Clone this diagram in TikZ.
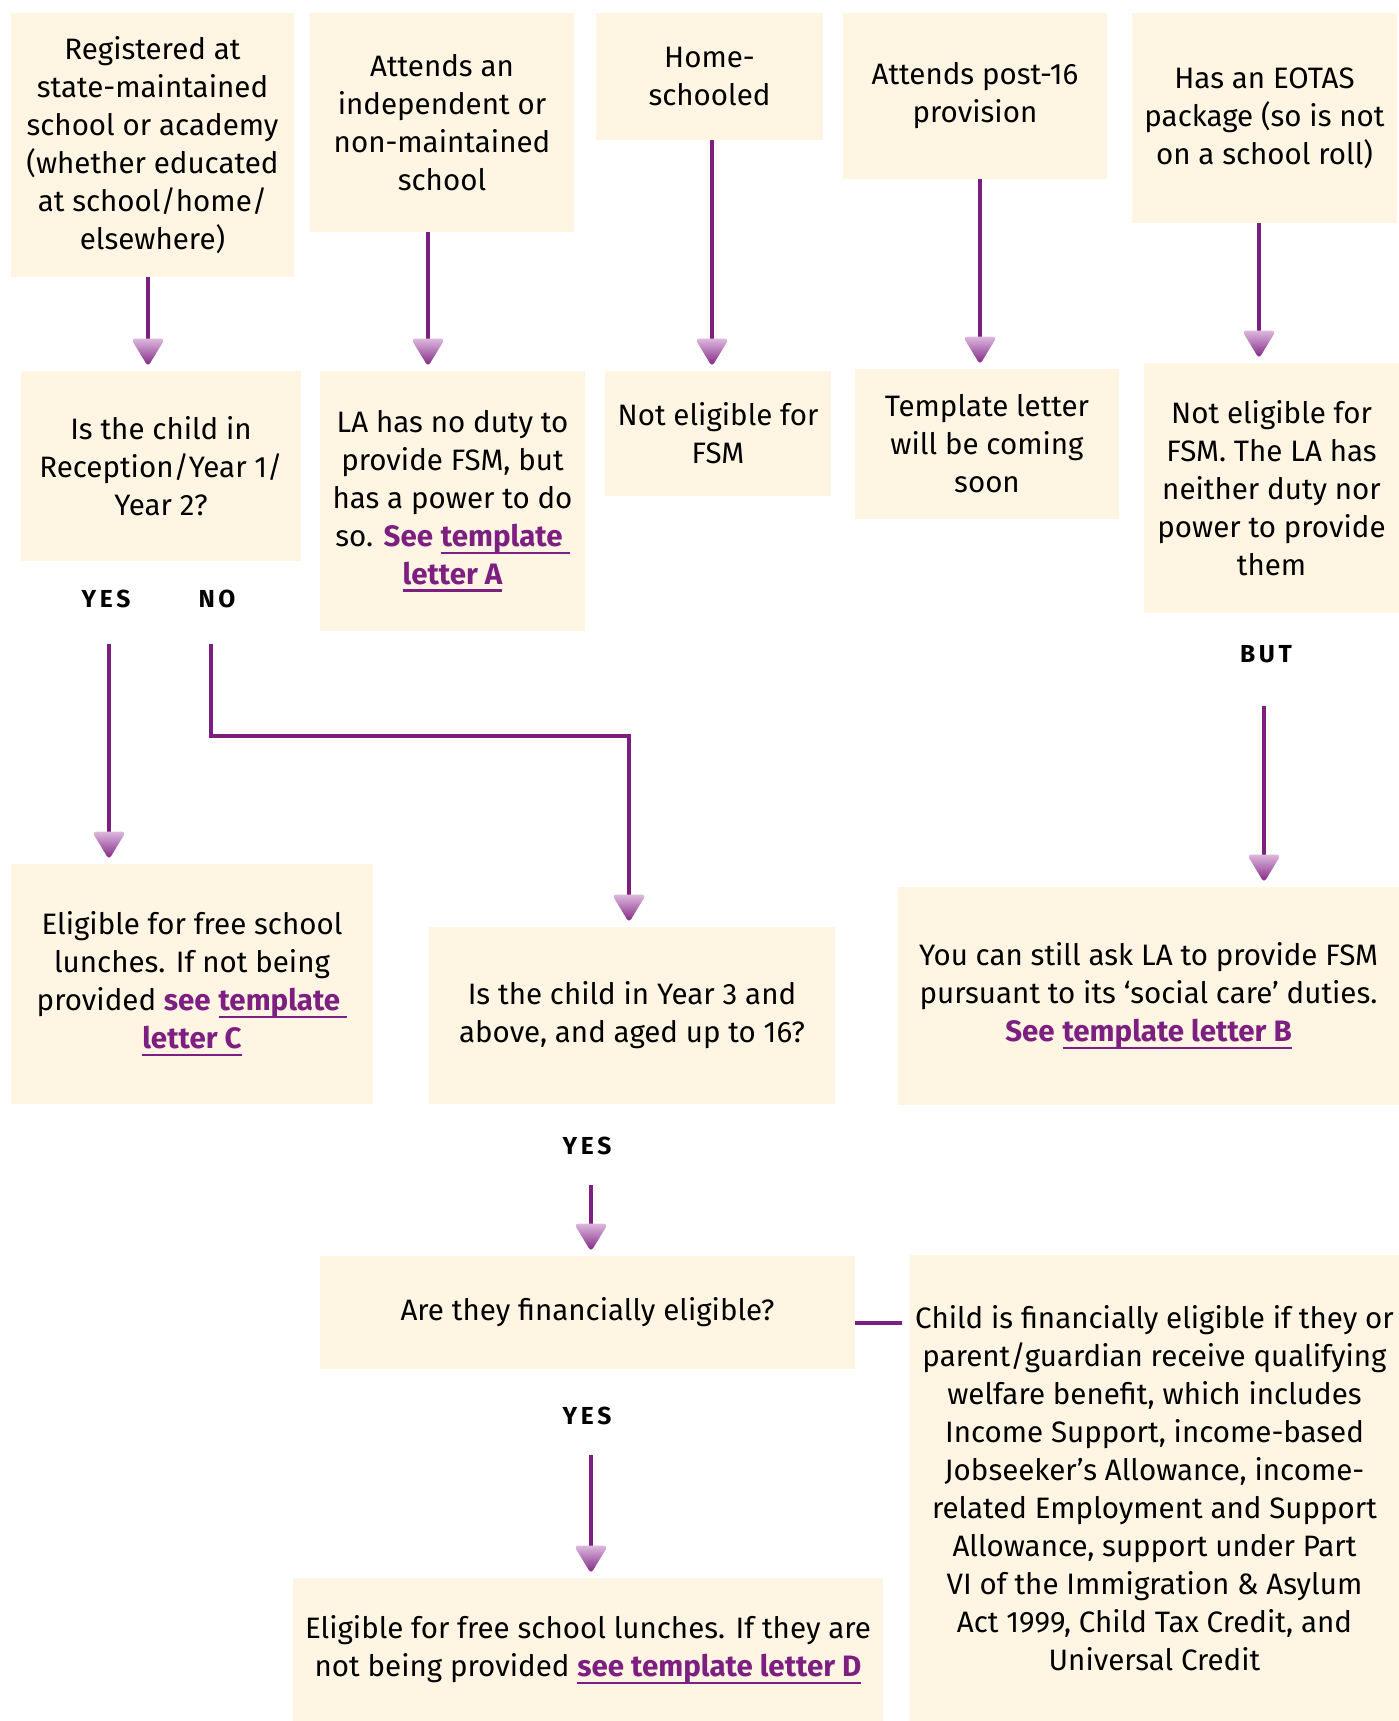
\documentclass[tikz,border=0pt]{standalone}
\usepackage{fontspec}
\setmainfont{Fira Sans}
\newfontfamily\tagfont[LetterSpace=15]{Fira Sans}
\usetikzlibrary{positioning}

\definecolor{boxC}{HTML}{FFF5E2}
\definecolor{lineP}{HTML}{7D1F80}
\definecolor{tipL}{HTML}{DDB8DE}

\newcommand{\lnk}[1]{{\color{lineP}\bfseries #1}}
\newcommand{\ulnk}[1]{{\color{lineP}\bfseries\setbox0\hbox{#1}\rlap{\rule[-4.5pt]{\wd0}{1.4pt}}\box0}}

\tikzset{
  box/.style={fill=boxC, inner sep=0pt, align=center,
    font=\fontsize{16.8}{21.6}\selectfont},
  sz/.style 2 args={minimum width=#1*0.02cm, minimum height=#2*0.02cm},
  tag/.style={inner sep=0pt, font=\tagfont\bfseries\fontsize{14}{16}\selectfont},
  conn/.style={draw=lineP, line width=0.064cm},
  purpletip/.pic={
    \shade[top color=tipL, bottom color=lineP, rounded corners=0.08cm]
      (-17,-32) -- (17,-32) -- (0,-4) -- cycle;
  }
}

\begin{document}
\begin{tikzpicture}[x=0.02cm,y=-0.02cm]
\useasboundingbox (0,0) rectangle (1399,1721);

% first row
\node[box, sz={283}{264}] (reg) at (152.5,145) {Registered at\\ state-maintained\\ school or academy\\ (whether educated\\ at school/home/\\ elsewhere)};
\node[box, sz={264}{219}] (indep) at (442,122.5) {Attends an\\ independent or\\ non-maintained\\ school};
\node[box, sz={227}{127}] (home) at (709.5,76.5) {Home-\\ schooled};
\node[box, sz={264}{166}] (post) at (975,96) {Attends post-16\\ provision};
\node[box, sz={265}{210}] (eotas) at (1264.5,118) {Has an EOTAS\\ package (so is not\\ on a school roll)};

% second row
\node[box, sz={280}{190}] (recep) at (161,466) {Is the child in\\ Reception/Year 1/\\ Year 2?};
\node[box, sz={265}{260}] (dutyA) at (452.5,501) {LA has no duty to\\ provide FSM, but\\ has a power to do\\ so. \lnk{See} \ulnk{template }\\ \ulnk{letter A}};
\node[box, sz={226}{125}] (notelig) at (718,433.5) {Not eligible for\\ FSM};
\node[box, sz={264}{150}] (tmpl) at (987,444) {Template letter\\ will be coming\\ soon};
\node[box, sz={255}{250}] (noduty) at (1271.5,488) {Not eligible for\\ FSM. The LA has\\ neither duty nor\\ power to provide\\ them};

\node[tag] (yesA) at (106,599) {YES};
\node[tag] (noA) at (217,599) {NO};
\node[tag] (butA) at (1266,654) {BUT};

% third row
\node[box, sz={362}{240}] (eligC) at (192,984) {Eligible for free school\\ lunches. If not being\\ provided \lnk{see} \ulnk{template }\\ \ulnk{letter C}};
\node[box, sz={406}{177}] (year3) at (632,1015.5) {Is the child in Year 3 and\\ above, and aged up to 16?};
\node[box, sz={501}{218}] (askB) at (1148.5,996) {You can still ask LA to provide FSM\\ pursuant to its ‘social care’ duties.\\ \lnk{See} \ulnk{template letter B}};

\node[tag] (yesB) at (587,1146) {YES};

% bottom
\node[box, sz={535}{113}] (fin) at (587.5,1312.5) {Are they financially eligible?};
\node[tag] (yesC) at (587,1416) {YES};
\node[box, sz={590}{143}] (eligD) at (588,1649.5) {Eligible for free school lunches. If they are\\ not being provided \ulnk{see template letter D}};
\node[box, sz={489}{466}] (fincrit) at (1154.5,1488) {Child is financially eligible if they or\\ parent/guardian receive qualifying\\ welfare benefit, which includes\\ Income Support, income-based\\ Jobseeker’s Allowance, income-\\ related Employment and Support\\ Allowance, support under Part\\ VI of the Immigration \& Asylum\\ Act 1999, Child Tax Credit, and\\ Universal Credit};

% connectors
\foreach \a/\b/\x in {reg/recep/148, indep/dutyA/428, home/notelig/712, post/tmpl/980, eotas/noduty/1259} {
  \draw[conn, shorten >=0.6cm] (\a.south -| \x,0) -- (\b.north -| \x,0);
  \pic at (\b.north -| \x,0) {purpletip};
}

\draw[conn, shorten <=0.72cm, shorten >=0.6cm] (yesA.south -| 109,0) -- (eligC.north -| 109,0);
\pic at (eligC.north -| 109,0) {purpletip};

\coordinate (nobend) at (629,736);
\draw[conn, shorten <=0.72cm, shorten >=0.6cm] (noA.south -| 211,0) |- (nobend) -- (year3.north -| nobend);
\pic at (year3.north -| nobend) {purpletip};

\draw[conn, shorten <=0.86cm, shorten >=0.6cm] (butA.south -| 1264,0) -- (askB.north -| 1264,0);
\pic at (askB.north -| 1264,0) {purpletip};

\draw[conn, shorten <=0.6cm, shorten >=0.6cm] (yesB.south -| 591,0) -- (fin.north -| 591,0);
\pic at (fin.north -| 591,0) {purpletip};

\draw[conn, shorten <=0.6cm, shorten >=0.6cm] (yesC.south -| 591,0) -- (eligD.north -| 591,0);
\pic at (eligD.north -| 591,0) {purpletip};

\coordinate (finlink) at (902,1323);
\draw[conn] (fin.east |- finlink) -- (finlink);
\end{tikzpicture}
\end{document}
